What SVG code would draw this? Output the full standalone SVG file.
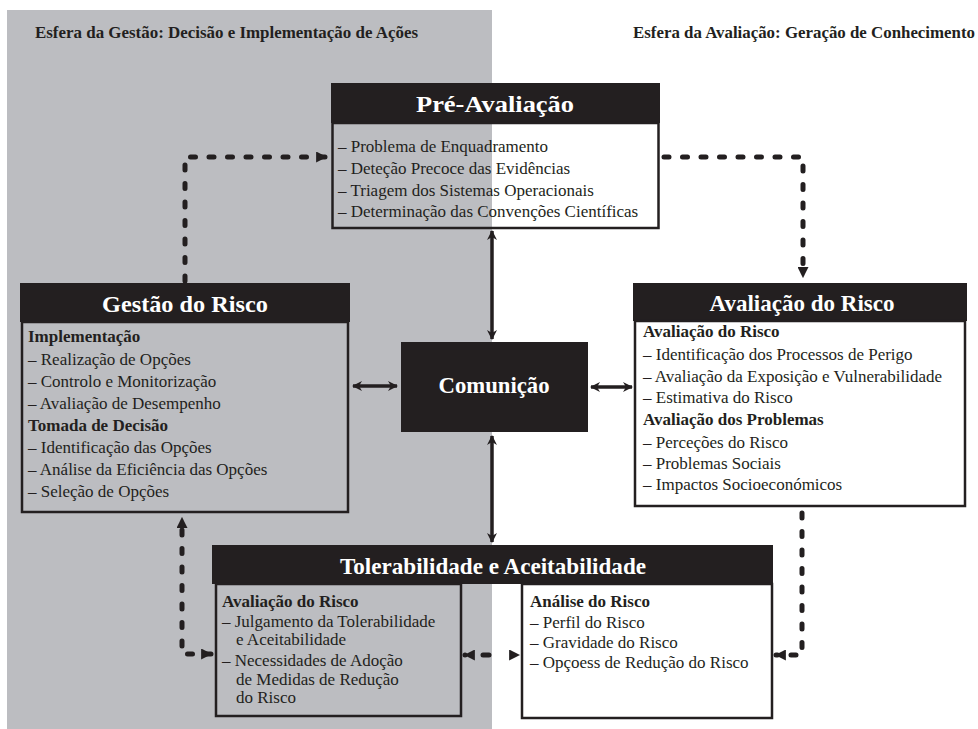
<svg xmlns="http://www.w3.org/2000/svg" width="978" height="729" viewBox="0 0 978 729">
<style>
  .bg{fill:#bcbdc1}
  .hdr{fill:#231f20}
  .body{fill:none;stroke:#231f20;stroke-width:2.5}
  .title{font-family:"Liberation Serif",serif;font-weight:bold;font-size:24px;fill:#ffffff;text-anchor:middle}
  .sphere{font-family:"Liberation Serif",serif;font-weight:bold;font-size:16px;fill:#231f20}
  .it{font-family:"Liberation Serif",serif;font-size:17px;fill:#231f20}
  .b{font-weight:bold}
  .solid{fill:none;stroke:#231f20;stroke-width:3.5}
  .dash{fill:none;stroke:#231f20;stroke-width:5;stroke-linecap:round;stroke-dasharray:5 13.5}
</style>
<defs>
  <marker id="ah" viewBox="0 0 10 10" refX="9" refY="5" markerWidth="11" markerHeight="11" markerUnits="userSpaceOnUse" orient="auto-start-reverse">
    <path d="M0,0 L10,5 L0,10 z" fill="#231f20"/>
  </marker>
  <marker id="sh" viewBox="0 0 10 10" refX="9" refY="5" markerWidth="10" markerHeight="11" markerUnits="userSpaceOnUse" orient="auto-start-reverse">
    <path d="M0,0 L10,5 L0,10 L3,5 z" fill="#231f20"/>
  </marker>
</defs>

<rect class="bg" x="7" y="10" width="485" height="719"/>

<g id="sphere-labels">
  <text class="sphere" x="35" y="38" textLength="383" lengthAdjust="spacingAndGlyphs">Esfera da Gestão: Decisão e Implementação de Ações</text>
  <text class="sphere" x="633" y="38" textLength="342" lengthAdjust="spacingAndGlyphs">Esfera da Avaliação: Geração de Conhecimento</text>
</g>

<g id="connectors">
  <path class="dash" d="M185,281 V157 H326" marker-end="url(#ah)"/>
  <path class="dash" d="M664,157 H803 V277" marker-end="url(#ah)"/>
  <path class="dash" d="M802,513 V655 H776" marker-end="url(#ah)"/>
  <path class="dash" d="M211,654 H182 V518" marker-end="url(#ah)" marker-start="url(#ah)"/>
  <path class="dash" d="M465,655 H519" style="stroke-dasharray:0 18 6 100" marker-end="url(#ah)" marker-start="url(#ah)"/>
  <path class="solid" d="M492,231 V339" marker-end="url(#sh)" marker-start="url(#sh)"/>
  <path class="solid" d="M492,436 V542" marker-end="url(#sh)" marker-start="url(#sh)"/>
  <path class="solid" d="M353,386 H397" marker-end="url(#sh)" marker-start="url(#sh)"/>
  <path class="solid" d="M591,387 H632" marker-end="url(#sh)" marker-start="url(#sh)"/>
</g>

<g id="pre-avaliacao">
  <rect class="hdr" x="331" y="83" width="329" height="40"/>
  <rect class="body" x="332.5" y="123" width="326" height="105"/>
  <text class="title" x="495" y="112" textLength="158" lengthAdjust="spacingAndGlyphs">Pré-Avaliação</text>
  <text class="it" x="338" y="152">– Problema de Enquadramento</text>
  <text class="it" x="338" y="174">– Deteção Precoce das Evidências</text>
  <text class="it" x="338" y="196">– Triagem dos Sistemas Operacionais</text>
  <text class="it" x="338" y="217">– Determinação das Convenções Científicas</text>
</g>

<g id="gestao">
  <rect class="hdr" x="20" y="283" width="330" height="39"/>
  <rect class="body" x="22" y="322" width="326" height="190"/>
  <text class="title" x="185" y="312" textLength="166" lengthAdjust="spacingAndGlyphs">Gestão do Risco</text>
  <text class="it b" x="28" y="342">Implementação</text>
  <text class="it" x="28" y="365">– Realização de Opções</text>
  <text class="it" x="28" y="387">– Controlo e Monitorização</text>
  <text class="it" x="28" y="409">– Avaliação de Desempenho</text>
  <text class="it b" x="28" y="431">Tomada de Decisão</text>
  <text class="it" x="28" y="453">– Identificação das Opções</text>
  <text class="it" x="28" y="475">– Análise da Eficiência das Opções</text>
  <text class="it" x="28" y="497">– Seleção de Opções</text>
</g>

<g id="comunicacao">
  <rect class="hdr" x="401" y="342" width="187" height="90"/>
  <text class="title" x="494" y="393" textLength="111" lengthAdjust="spacingAndGlyphs">Comunição</text>
</g>

<g id="avaliacao">
  <rect class="hdr" x="633" y="283" width="334" height="38"/>
  <rect class="body" x="635" y="321" width="330" height="185" style="fill:#fff"/>
  <text class="title" x="802" y="311" textLength="185" lengthAdjust="spacingAndGlyphs">Avaliação do Risco</text>
  <text class="it b" x="643" y="337">Avaliação do Risco</text>
  <text class="it" x="643" y="360">– Identificação dos Processos de Perigo</text>
  <text class="it" x="643" y="382">– Avaliação da Exposição e Vulnerabilidade</text>
  <text class="it" x="643" y="403">– Estimativa do Risco</text>
  <text class="it b" x="643" y="425">Avaliação dos Problemas</text>
  <text class="it" x="643" y="448">– Perceções do Risco</text>
  <text class="it" x="643" y="469">– Problemas Sociais</text>
  <text class="it" x="643" y="490">– Impactos Socioeconómicos</text>
</g>

<g id="tolerabilidade">
  <rect class="hdr" x="212" y="545" width="561" height="39"/>
  <rect class="body" x="216" y="584" width="245" height="132"/>
  <rect class="body" x="522" y="584" width="250" height="134" style="fill:#fff"/>
  <text class="title" x="493" y="574" textLength="306" lengthAdjust="spacingAndGlyphs">Tolerabilidade e Aceitabilidade</text>
  <text class="it b" x="222" y="607">Avaliação do Risco</text>
  <text class="it" x="222" y="627">– Julgamento da Tolerabilidade</text>
  <text class="it" x="236" y="645">e Aceitabilidade</text>
  <text class="it" x="222" y="666">– Necessidades de Adoção</text>
  <text class="it" x="236" y="685">de Medidas de Redução</text>
  <text class="it" x="236" y="703">do Risco</text>
  <text class="it b" x="530" y="607">Análise do Risco</text>
  <text class="it" x="530" y="628">– Perfil do Risco</text>
  <text class="it" x="530" y="648">– Gravidade do Risco</text>
  <text class="it" x="530" y="668">– Opçoess de Redução do Risco</text>
</g>
</svg>
